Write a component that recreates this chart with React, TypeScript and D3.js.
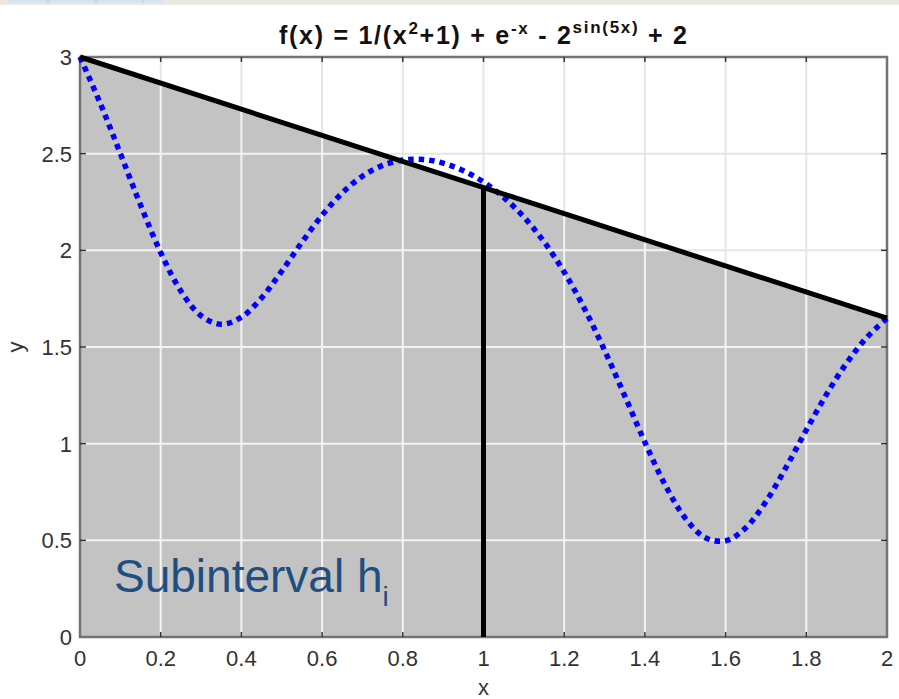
import React from "react";
import * as d3 from "d3";

const xs = [0, 0.05, 0.1, 0.15, 0.2, 0.25, 0.3, 0.35, 0.4, 0.45, 0.5, 0.55, 0.6, 0.65, 0.7, 0.75, 0.8, 0.85, 0.9, 0.95, 1.0, 1.05, 1.1, 1.15, 1.2, 1.25, 1.3, 1.35, 1.4, 1.45, 1.5, 1.55, 1.6, 1.65, 1.7, 1.75, 1.8, 1.85, 1.9, 1.95, 2.0];
const ys = [3.0, 2.7616, 2.5007, 2.2347, 1.9884, 1.7894, 1.6617, 1.6176, 1.6542, 1.7543, 1.8924, 2.0418, 2.1813, 2.2973, 2.3836, 2.4395, 2.4673, 2.4703, 2.4512, 2.4121, 2.3535, 2.2741, 2.1722, 2.0441, 1.8871, 1.6994, 1.4834, 1.2475, 1.0076, 0.7874, 0.6149, 0.5136, 0.4975, 0.565, 0.7005, 0.8781, 1.0705, 1.2549, 1.4173, 1.5492, 1.6494];
const secantX = [0, 2];
const secantY = [3.0, 1.6494];
const splitX = 1;
const xTicks = [0, 0.2, 0.4, 0.6, 0.8, 1, 1.2, 1.4, 1.6, 1.8, 2];
const yTicks = [0, 0.5, 1, 1.5, 2, 2.5, 3];

const W = 899, H = 699;
const L = 80, R = 887, T = 57, B = 637;
const FONT = "'Liberation Sans', Arial, Helvetica, sans-serif";

export default function App() {
  const x = d3.scaleLinear().domain([0, 2]).range([L, R]);
  const y = d3.scaleLinear().domain([0, 3]).range([B, T]);
  const curve = d3.line<number>().x((_, i) => x(xs[i])).y((d) => y(d)).curve(d3.curveCatmullRom)(ys) || "";
  const secant = d3.line<number>().x((_, i) => x(secantX[i])).y((d) => y(d))(secantY) || "";
  const poly = `M${x(secantX[0])},${y(secantY[0])}L${x(secantX[1])},${y(secantY[1])}L${x(2)},${y(0)}L${x(0)},${y(0)}Z`;
  const splitTop = secantY[0] + (secantY[1] - secantY[0]) * (splitX - secantX[0]) / (secantX[1] - secantX[0]);
  const fmt = (v: number) => String(v);
  const axisCol = "#737373";
  const grid = (col: string) => (
    <g stroke={col} strokeWidth={2}>
      {xTicks.slice(1, -1).map((t) => <line key={"gx" + t} x1={x(t)} x2={x(t)} y1={T} y2={B} />)}
      {yTicks.slice(1, -1).map((t) => <line key={"gy" + t} x1={L} x2={R} y1={y(t)} y2={y(t)} />)}
    </g>
  );
  return (
    <svg width={W} height={H} style={{ position: "absolute", left: 0, top: 0 }} fontFamily={FONT}>
      <rect x={0} y={0} width={W} height={H} fill="#ffffff" />
      <rect x={0} y={0} width={W} height={5} fill="#ece9e0" />
      <rect x={8} y={0} width={155} height={3} fill="#d6e2f0" />
      {[48, 96, 143].map((v) => <line key={v} x1={v} x2={v} y1={0} y2={3} stroke="#b8c8dc" />)}
      <defs>
        <clipPath id="polyclip"><path d={poly} /></clipPath>
      </defs>
      {grid("#e6e6e6")}
      <path d={poly} fill="#c3c3c3" />
      <g clipPath="url(#polyclip)">{grid("#f4f4f4")}</g>
      <rect x={L} y={T} width={R - L} height={B - T} fill="none" stroke={axisCol} strokeWidth={2.5} />
      <g stroke="#333" strokeWidth={1.5}>
        {xTicks.slice(1, -1).map((t) => (
          <g key={"tx" + t}>
            <line x1={x(t)} x2={x(t)} y1={B} y2={B - 5} />
            <line x1={x(t)} x2={x(t)} y1={T} y2={T + 5} />
          </g>
        ))}
        {yTicks.slice(1, -1).map((t) => (
          <g key={"ty" + t}>
            <line x1={L} x2={L + 6} y1={y(t)} y2={y(t)} />
            <line x1={R} x2={R - 6} y1={y(t)} y2={y(t)} />
          </g>
        ))}
      </g>
      <path d={curve} fill="none" stroke="#0000ff" strokeWidth={5.5} strokeDasharray="5.5,5" />
      <path d={secant} fill="none" stroke="#000" strokeWidth={5} />
      <line x1={x(splitX)} x2={x(splitX)} y1={y(0)} y2={y(splitTop)} stroke="#000" strokeWidth={5} />
      <g fill="#333" fontSize={22}>
        {xTicks.map((t) => (
          <text key={"lx" + t} x={x(t)} y={666} textAnchor="middle">{fmt(t)}</text>
        ))}
        {yTicks.map((t) => (
          <text key={"ly" + t} x={72} y={y(t) + 8} textAnchor="end">{fmt(t)}</text>
        ))}
        <text x={(L + R) / 2} y={695} textAnchor="middle">x</text>
        <text transform={`translate(23,${(T + B) / 2}) rotate(-90)`} textAnchor="middle">y</text>
      </g>
      <text x={279} y={44} fontWeight="bold" fontSize={25} fill="#111" textLength={408} lengthAdjust="spacing">
        f(x) = 1/(x<tspan dy={-10} fontSize={17}>2</tspan><tspan dy={10}>+1) + e</tspan><tspan dy={-10} fontSize={17}>-x</tspan><tspan dy={10}> - 2</tspan><tspan dy={-11} fontSize={17}>sin(5x)</tspan><tspan dy={11}> + 2</tspan>
      </text>
      <text x={114} y={592} fontSize={46} fill="#1f4e82">
        Subinterval h<tspan dy={14} fontSize={28}>i</tspan>
      </text>
    </svg>
  );
}
